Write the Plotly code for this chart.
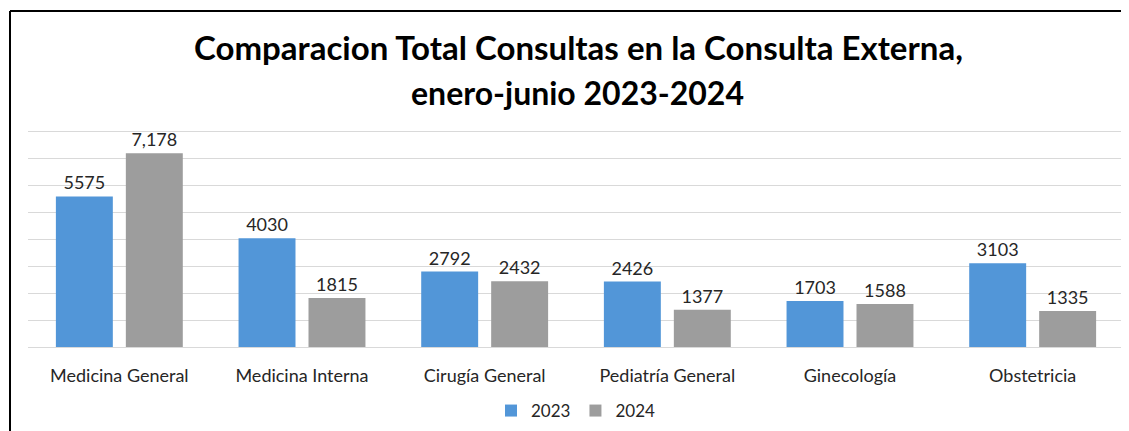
import plotly.graph_objects as go

categories = ["Medicina General", "Medicina Interna", "Cirugía General",
              "Pediatría General", "Ginecología", "Obstetricia"]
values_2023 = [5575, 4030, 2792, 2426, 1703, 3103]
values_2024 = [7178, 1815, 2432, 1377, 1588, 1335]
labels_2023 = ["5575", "4030", "2792", "2426", "1703", "3103"]
labels_2024 = ["7,178", "1815", "2432", "1377", "1588", "1335"]
title_lines = ["Comparacion Total Consultas en la Consulta Externa,",
               "enero-junio 2023-2024"]

FONT = "Lato"
TXT = "#262626"

fig = go.Figure()
fig.add_trace(go.Bar(
    name="2023", x=categories, y=values_2023, text=labels_2023,
    textposition="outside", cliponaxis=False,
    textfont=dict(family=FONT, size=18, color=TXT),
    marker=dict(color="#5296d8", line=dict(width=0)),
))
fig.add_trace(go.Bar(
    name="2024", x=categories, y=values_2024, text=labels_2024,
    textposition="outside", cliponaxis=False,
    textfont=dict(family=FONT, size=18, color=TXT),
    marker=dict(color="#9d9d9d", line=dict(width=0)),
))

# page body has an 8px margin; work in screen pixels and shift
OFF = 8
SW, SH = 1129, 431
W, H = SW - OFF, SH - OFF
L, R = 28 - OFF, 5
T, B = 128 - OFF, H - (347 - OFF)
pw, ph = W - L - R, H - T - B

def px(xs):
    return (xs - OFF - L) / pw

def py(ys):
    return (H - B - (ys - OFF)) / ph

annotations = [
    dict(text="<b>%s</b>" % title_lines[0], xref="paper", yref="paper",
         x=px(578), y=py(47), xanchor="center", yanchor="middle",
         showarrow=False, font=dict(family=FONT, size=33, color="#000000")),
    dict(text="<b>%s</b>" % title_lines[1], xref="paper", yref="paper",
         x=px(577), y=py(92), xanchor="center", yanchor="middle",
         showarrow=False, font=dict(family=FONT, size=32, color="#000000")),
]

fig.update_layout(
    width=W, height=H,
    margin=dict(l=L, r=R, t=T, b=B, autoexpand=False),
    paper_bgcolor="white", plot_bgcolor="white",
    barmode="group", bargap=0.234, bargroupgap=0.186,
    font=dict(family=FONT, color=TXT),
    annotations=annotations,
    xaxis=dict(
        showgrid=False, showline=True, linecolor="#d9d9d9", linewidth=1,
        ticks="", tickfont=dict(family=FONT, size=18, color=TXT),
        ticklabelstandoff=12, automargin=False,
    ),
    yaxis=dict(
        range=[0, 8111], tick0=0, dtick=1000, showgrid=True, gridcolor="#d9d9d9",
        gridwidth=1, showticklabels=False, zeroline=False, showline=False,
        automargin=False,
    ),
    legend=dict(
        orientation="h", x=0.5, xanchor="center",
        yref="container", y=1 - (411 - OFF) / H, yanchor="middle",
        font=dict(family=FONT, size=17, color=TXT),
        traceorder="normal", itemwidth=30,
    ),
    shapes=[
        dict(type="line", xref="paper", yref="paper",
             x0=px(10), x1=px(SW + 5), y0=py(11), y1=py(11),
             line=dict(color="#000000", width=2)),
        dict(type="line", xref="paper", yref="paper",
             x0=px(10), x1=px(10), y0=py(11), y1=py(SH + 5),
             line=dict(color="#000000", width=2)),
    ],
)

fig.write_html("out.html")
